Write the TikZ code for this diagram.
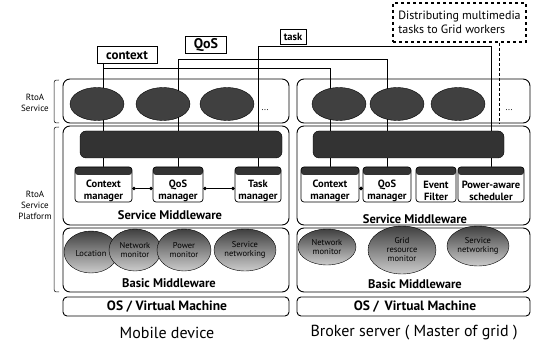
\documentclass[tikz,border=0pt]{standalone}
\usepackage{fontspec}
\setmainfont{PT Sans}
\usetikzlibrary{shapes.geometric,arrows.meta,positioning,backgrounds}
\tikzset{
  layerbox/.style={draw,rounded corners=7pt,line width=0.9pt},
  svc/.style={ellipse,draw,fill=black!75,minimum width=54pt,minimum height=33pt,inner sep=0pt},
  busbar/.style={draw,rounded corners=6pt,fill=black!80,minimum height=27pt,inner sep=0pt},
  mgrtext/.style={align=center,yshift=-6.5pt,inner sep=0pt,font=\bfseries\fontsize{10.5}{12.5}\selectfont},
  mgr/.style={draw,rounded corners=3pt,fill=white,line width=0.7pt,minimum height=35pt,inner sep=0pt,
    label={[mgrtext]center:{#1}},
    path picture={\fill[black!80] (path picture bounding box.north west) rectangle ([yshift=-8pt]path picture bounding box.north east);}},
  blob/.style={ellipse,draw,line width=0.4pt,top color=black!75,bottom color=black!20,align=center,inner sep=0pt,
    font=\fontsize{8.5}{9}\selectfont},
  tag/.style={draw,line width=1pt,inner sep=0pt,font=\bfseries},
  link/.style={line width=0.5pt},
  linkdots/.style={line width=0.7pt,{Circle[length=3.5pt]}-{Circle[length=3.5pt]}},
  layertext/.style={font=\bfseries\fontsize{12.5}{14}\selectfont},
  sidetext/.style={align=center,font=\fontsize{9}{11}\selectfont},
}
\begin{document}
\begin{tikzpicture}[x=1pt,y=-1pt]
\useasboundingbox (0,0) rectangle (536,347);
% layers of both columns
\foreach \xa/\xb in {63/289,297/530} {
\draw[layerbox] (\xa,79) rectangle (\xb,123);
\draw[layerbox] (\xa,126) rectangle (\xb,225);
\draw[layerbox] (\xa,228) rectangle (\xb,292);
\draw[layerbox,rounded corners=4pt] (\xa,297) rectangle (\xb,316);};
% side labels
\node[sidetext] (svclab) at (35,103) {RtoA\\Service};
\node[sidetext] (platlab) at (35,205) {RtoA\\Service\\Platform};
\draw[line width=0.5pt] (59,80) .. controls (54,80) .. (54,86) -- (54,117) .. controls (54,123) .. (59,123);
\draw[line width=0.5pt] (59,127) .. controls (54,127) .. (54,133) -- (54,286) .. controls (54,292) .. (59,292);
% task tags
\node[tag,minimum width=60pt,minimum height=17pt,font=\bfseries\fontsize{13}{14}\selectfont] (ctx) at (127,55) {context};
\node[tag,minimum width=41pt,minimum height=17pt,font=\bfseries\fontsize{14}{15}\selectfont] (qos) at (206,45.5) {QoS};
\node[tag,minimum width=26pt,minimum height=15pt,font=\bfseries\fontsize{10.5}{11}\selectfont] (task) at (293,37) {task};
\node[draw,dashed,line width=1.2pt,minimum width=133pt,minimum height=39pt,align=left,
  font=\fontsize{12}{14}\selectfont] (dist) at (459.5,22.5) {Distributing multimedia\\tasks to Grid workers};
% RtoA services
\node[svc] (sL1) at (97,104) {};
\node[svc] (sL2) at (163,104) {};
\node[svc] (sL3) at (227,104) {};
\node[font=\fontsize{9}{9}\selectfont] (moreL) at (265,110) {...};
\node[svc] (sR1) at (339,104) {};
\node[svc] (sR2) at (397,104) {};
\node[svc] (sR3) at (458,104) {};
\node[font=\fontsize{9}{9}\selectfont] (moreR) at (509,110) {...};
% service middleware
\node[busbar,minimum width=202pt] (busL) at (181,144.5) {};
\node[busbar,minimum width=191pt] (busR) at (408.5,144.5) {};
\node[mgr={Context\\manager},minimum width=57pt] (cmL) at (103.5,184.5) {};
\node[mgr={QoS\\manager},minimum width=50pt] (qmL) at (178,184.5) {};
\node[mgr={Task\\manager},minimum width=46pt] (tmL) at (258,184.5) {};
\node[mgr={Context\\manager},minimum width=58pt] (cmR) at (330,184.5) {};
\node[mgr={QoS\\manager},minimum width=48pt] (qmR) at (387,184.5) {};
\node[mgr={Event\\Filter},minimum width=40pt] (efR) at (436,184.5) {};
\node[mgr={Power-aware\\scheduler},minimum width=66pt] (psR) at (491,184.5) {};
\draw[linkdots] ([yshift=-4pt]cmL.east) -- ([yshift=-4pt]qmL.west);
\draw[linkdots] ([yshift=-4pt]qmL.east) -- ([yshift=-4pt]tmL.west);
\draw[linkdots] ([yshift=-4pt]cmR.east) -- ([yshift=-4pt]qmR.west);
\node[layertext] (smL) at (170,215) {Service Middleware};
\node[layertext] (smR) at (415,219) {Service Middleware};
% basic middleware
\node[blob,minimum width=54pt,minimum height=42pt] (loc) at (91,252) {\\Location};
\node[blob,minimum width=52pt,minimum height=42pt] (nmL) at (135,250) {Network\\monitor};
\node[blob,minimum width=54pt,minimum height=42pt] (pm) at (184,250) {Power\\monitor};
\node[blob,minimum width=62pt,minimum height=42pt] (snL) at (245,250) {Service\\networking};
\node[blob,minimum width=58pt,minimum height=36pt] (nmR) at (327,247) {Network\\monitor};
\node[blob,minimum width=68pt,minimum height=48pt] (grm) at (402,250) {Grid\\resource\\monitor};
\node[blob,minimum width=62pt,minimum height=40pt] (snR) at (478,246) {Service\\networking};
\node[layertext] (bmL) at (169,283) {Basic Middleware};
\node[layertext] (bmR) at (415,284) {Basic Middleware};
% OS and device names
\node[layertext,font=\bfseries\fontsize{13.5}{15}\selectfont] (osL) at (167,306.5) {OS / Virtual Machine};
\node[layertext,font=\bfseries\fontsize{13.5}{15}\selectfont] (osR) at (415,306.5) {OS / \,Virtual Machine};
\node[font=\fontsize{16}{18}\selectfont] (mob) at (167,333) {Mobile device};
\node[font=\fontsize{16}{18}\selectfont] (brk) at (414,333) {Broker server ( Master of grid )};
% links behind the services
\coordinate (ctxrow) at (0,68);
\coordinate (qosrow) at (0,59);
\coordinate (taskrow) at (0,46);
\coordinate (distend) at (499,124);
\begin{scope}[on background layer]
\draw[link] (cmL.north |- ctx.south) -- (cmL.north);
\draw[link] (cmL.north |- ctxrow) -| (cmR.north);
\draw[link] (qmL.north) |- (qmR.north |- qosrow) -- (qmR.north);
\draw[link] (tmL.north) |- (psR.north |- taskrow) -- (psR.north);
\draw[link,densely dashed,line width=0.8pt] (dist.south -| distend) -- (distend);
\end{scope}
\end{tikzpicture}
\end{document}
